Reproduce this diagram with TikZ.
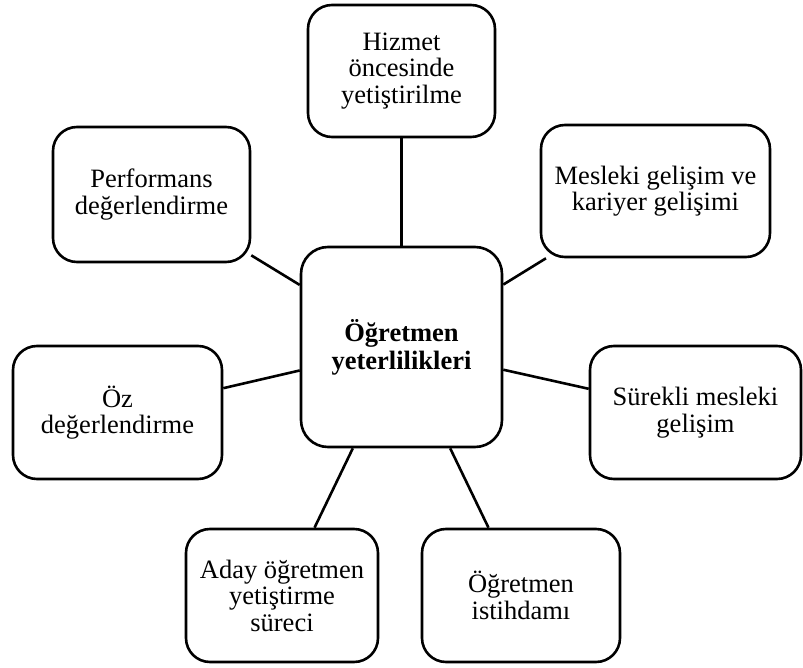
\documentclass[tikz,border=0pt]{standalone}
\usepackage{fontspec}
\setmainfont{Liberation Serif}
\usetikzlibrary{positioning}

\begin{document}
\begin{tikzpicture}[
        x=1pt, y=-1pt,
        topic/.style={rectangle, draw=black, line width=2.6pt, rounded corners=24pt, align=center, inner sep=0pt, font=\fontsize{26.5}{26.5}\selectfont},
        hub/.style={topic, rounded corners=27pt, font=\fontsize{26.5}{28}\selectfont\bfseries},
        link/.style={line width=2.6pt, black}
    ]
        \useasboundingbox (0,0) rectangle (803,668);
        \node[hub, minimum width=201pt, minimum height=200pt] (core) at (401.5,347) {Öğretmen\\yeterlilikleri};
        \node[topic, minimum width=187pt, minimum height=132pt] (preservice) at (401.5,71) {Hizmet\\öncesinde\\yetiştirilme};
        \node[topic, minimum width=229pt, minimum height=132pt] (career) at (655.5,191) {Mesleki gelişim ve\\kariyer gelişimi};
        \node[topic, minimum width=211pt, minimum height=133pt] (continuous) at (695.5,412.5) {Sürekli mesleki\\gelişim};
        \node[topic, minimum width=198pt, minimum height=133pt] (employment) at (521,595.5) {Öğretmen\\istihdamı};
        \node[topic, minimum width=192pt, minimum height=133pt] (candidate) at (282,595.5) {Aday öğretmen\\yetiştirme\\süreci};
        \node[topic, minimum width=209pt, minimum height=133pt] (selfeval) at (117.5,412.5) {Öz\\değerlendirme};
        \node[topic, minimum width=197pt, minimum height=135pt] (performance) at (151.5,194.5) {Performans\\değerlendirme};
        
        \draw[link] (core) -- (preservice);
        \draw[link] (core) -- (career);
        \draw[link] (core) -- (continuous);
        \draw[link] (core) -- (employment);
        \draw[link] (core) -- (candidate);
        \draw[link] (core) -- (selfeval);
        \draw[link] (core) -- (performance);
    \end{tikzpicture}
\end{document}
